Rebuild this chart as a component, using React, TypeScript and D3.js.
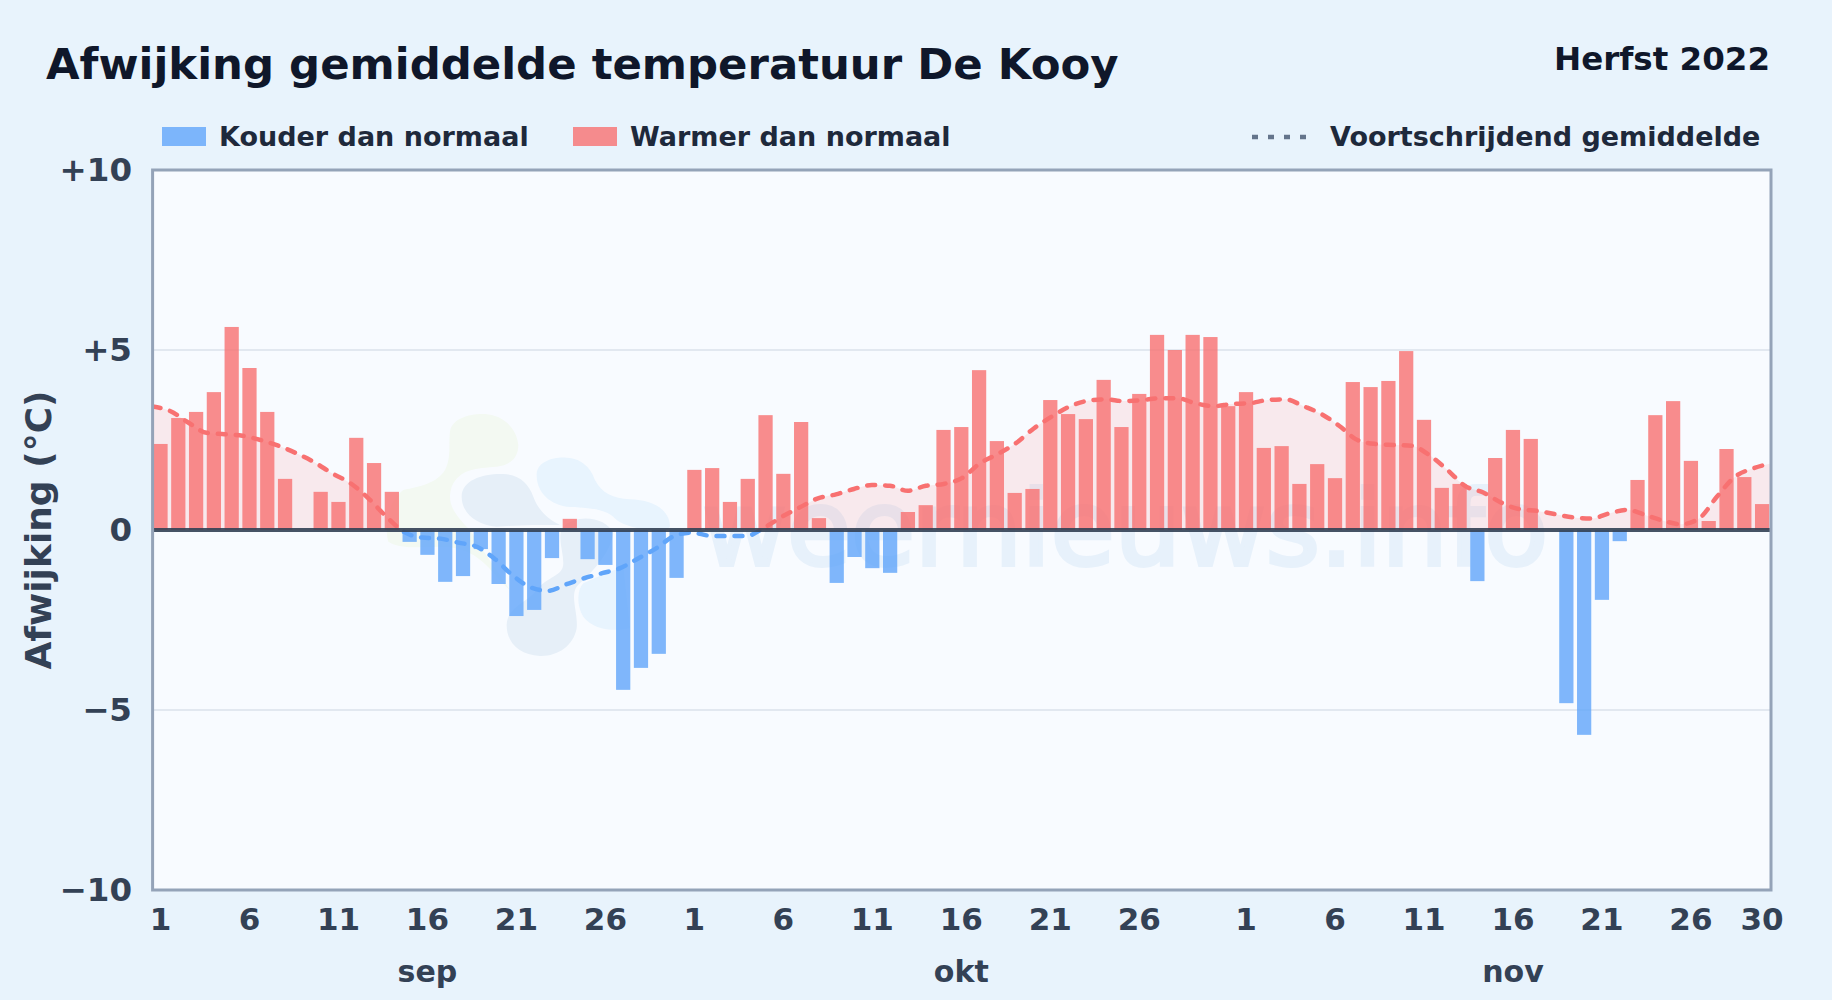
import * as d3 from "d3";

const months = ["sep", "okt", "nov"];
const monthLengths = [30, 31, 30];

// daily anomaly, null = no bar
const sepValues = [2.39, 3.11, 3.28, 3.83, 5.64, 4.5, 3.28, 1.42, null, 1.06, 0.78, 2.56, 1.86, 1.06, -0.33, -0.69, -1.44, -1.28, -0.53, -1.5, -2.39, -2.22, -0.78, 0.31, -0.81, -0.97, -4.44, -3.83, -3.44, -1.33];
const oktValues = [1.67, 1.72, 0.78, 1.42, 3.19, 1.56, 3.0, 0.33, -1.47, -0.75, -1.06, -1.19, 0.5, 0.69, 2.78, 2.86, 4.44, 2.47, 1.03, 1.14, 3.61, 3.22, 3.08, 4.17, 2.86, 3.78, 5.42, 5.0, 5.42, 5.36, 3.44];
const novValues = [3.83, 2.28, 2.33, 1.28, 1.83, 1.44, 4.11, 3.97, 4.14, 4.97, 3.06, 1.17, 1.28, -1.42, 2.0, 2.78, 2.53, null, -4.81, -5.69, -1.94, -0.31, 1.39, 3.19, 3.58, 1.92, 0.25, 2.25, 1.47, 0.72];

// moving average
const sepAvg = [3.43, 3.3, 2.98, 2.7, 2.66, 2.62, 2.5, 2.34, 2.13, 1.88, 1.57, 1.3, 0.88, 0.37, -0.06, -0.21, -0.24, -0.35, -0.46, -0.79, -1.25, -1.59, -1.69, -1.51, -1.34, -1.2, -1.06, -0.79, -0.51, -0.17];
const oktAvg = [-0.07, -0.16, -0.17, -0.17, 0.06, 0.37, 0.63, 0.88, 0.99, 1.14, 1.25, 1.23, 1.09, 1.23, 1.28, 1.44, 1.85, 2.11, 2.41, 2.82, 3.15, 3.43, 3.59, 3.63, 3.58, 3.61, 3.66, 3.66, 3.52, 3.44, 3.5];
const novAvg = [3.52, 3.61, 3.63, 3.44, 3.22, 2.89, 2.5, 2.39, 2.36, 2.34, 2.08, 1.67, 1.22, 1.04, 0.76, 0.58, 0.53, 0.44, 0.35, 0.32, 0.46, 0.56, 0.42, 0.26, 0.16, 0.32, 0.93, 1.48, 1.71, 1.85];

const yTicks = [10, 5, 0, -5, -10];
const yLabels = ["+10", "+5", "0", "−5", "−10"];
const dayTicks = [1, 6, 11, 16, 21, 26];

const values = [...sepValues, ...oktValues, ...novValues];
const averages = [...sepAvg, ...oktAvg, ...novAvg];
const indexes = d3.range(values.length);

const left = 152.6;
const right = 1771;
const top = 170;
const bottom = 890;

const x = d3.scaleBand<number>().domain(indexes).range([left - 1, right]).paddingInner(0.2).paddingOuter(0.1);
const xAvg = d3.scalePoint<number>().domain(indexes).range([left, right]);
const y = d3.scaleLinear().domain([-10, 10]).range([bottom, top]);
const center = (i: number) => x(i)! + x.bandwidth() / 2;

// index of every labelled day
const monthStart = (m: number) => d3.sum(monthLengths.slice(0, m));
const xTickItems = months.flatMap((_, m) => {
    const days = m === 2 ? [...dayTicks, 30] : dayTicks;
    return days.map((d) => ({ label: String(d), index: monthStart(m) + d - 1 }));
});

const linePath = d3
    .line<number>()
    .x((d, i) => xAvg(i)!)
    .y((d) => y(d))
    .curve(d3.curveMonotoneX)(averages)!;
const areaPath = d3
    .area<number>()
    .x((d, i) => xAvg(i)!)
    .y0(y(0))
    .y1((d) => y(d))
    .curve(d3.curveMonotoneX)(averages)!;

const font = "'DejaVu Sans', sans-serif";

const App = () => {
    return (
        <svg
            width={1832}
            height={1000}
            style={{ position: "absolute", left: 0, top: 0, display: "block", background: "#e8f3fc" }}
            fontFamily={font}
            fontWeight="bold"
        >
            <defs>
                <clipPath id="above">
                    <rect x={left} y={y(10)} width={right - left} height={y(0) - y(10)} />
                </clipPath>
                <clipPath id="below">
                    <rect x={left} y={y(0)} width={right - left} height={y(-10) - y(0)} />
                </clipPath>
            </defs>

            <text x={46} y={79} fontSize={43.4} fill="#0f172a">Afwijking gemiddelde temperatuur De Kooy</text>
            <text x={1770} y={70} fontSize={32.5} fill="#0f172a" textAnchor="end">Herfst 2022</text>

            {/* legend */}
            <rect x={162} y={127} width={44} height={19} fill="#60a5fa" opacity={0.8} />
            <text x={219} y={146} fontSize={27} fill="#1e293b">Kouder dan normaal</text>
            <rect x={573} y={127} width={44} height={19} fill="#f87171" opacity={0.8} />
            <text x={630} y={146} fontSize={27} fill="#1e293b">Warmer dan normaal</text>
            <line x1={1252} x2={1310} y1={137} y2={137} stroke="#64748b" strokeWidth={4.5} strokeDasharray="6 10" />
            <text x={1330} y={146} fontSize={27} fill="#1e293b">Voortschrijdend gemiddelde</text>

            <rect x={left} y={top} width={right - left} height={bottom - top} fill="#f8fbff" />

            {/* watermark */}
            <g transform="translate(370,390) scale(0.3333)">
                <path
                    d="M240 125 C245 85 300 70 345 72 C400 75 440 115 445 165 C445 205 420 225 380 230 C320 235 270 235 245 290 C230 340 250 370 300 420 C330 470 380 540 420 600 C370 560 340 480 230 470 C170 470 90 480 55 455 C40 400 60 330 100 300 C150 290 200 280 225 240 C245 200 235 165 240 125 Z"
                    fill="#f3f9f2"
                />
                <path
                    d="M275 320 C275 270 340 250 400 252 C450 255 475 280 490 320 C505 360 530 385 570 405 C500 405 440 405 380 410 C320 405 275 370 275 320 Z"
                    fill="#e6eff8"
                />
                <path
                    d="M410 705 C412 650 470 640 500 600 C530 560 580 560 580 520 C580 480 560 440 580 410 C620 370 710 380 730 430 C720 500 650 560 620 590 C600 620 625 670 620 715 C610 770 560 800 510 798 C450 795 410 760 410 705 Z"
                    fill="#e6eff8"
                />
                <path
                    d="M500 255 C500 215 550 200 590 203 C640 205 665 240 675 270 C695 310 730 325 780 328 C850 330 900 360 900 410 C890 430 760 420 730 380 C690 350 640 355 590 350 C530 340 500 300 500 255 Z"
                    fill="#e8f4fe"
                />
                <path
                    d="M640 580 C680 560 720 545 760 530 L780 715 C730 725 670 720 640 680 C620 650 620 600 640 580 Z"
                    fill="#e8f4fe"
                />
            </g>
            <text x={702} y={565} fontSize={104} fontWeight="normal" fill="#e7f1fb" stroke="#e7f1fb" strokeWidth={4}>weernieuws.info</text>

            {/* grid */}
            {yTicks
                .filter((t) => Math.abs(t) === 5)
                .map((t) => (
                    <line key={t} x1={left} x2={right} y1={y(t)} y2={y(t)} stroke="#e2e8f0" strokeWidth={2} />
                ))}

            <path d={areaPath} fill="#f87171" opacity={0.13} clipPath="url(#above)" />

            {/* bars */}
            {indexes.map((i) => {
                const v = values[i];
                if (v === null) return null;
                return (
                    <rect
                        key={i}
                        x={x(i)}
                        width={x.bandwidth()}
                        y={Math.min(y(v), y(0))}
                        height={Math.abs(y(v) - y(0))}
                        fill={v >= 0 ? "#f87171" : "#60a5fa"}
                        opacity={0.8}
                    />
                );
            })}

            <g fill="none" strokeWidth={4.5} strokeDasharray="8 10" strokeLinecap="round">
                <path d={linePath} stroke="#f87171" clipPath="url(#above)" />
                <path d={linePath} stroke="#60a5fa" clipPath="url(#below)" />
            </g>

            <line x1={left} x2={right} y1={y(0)} y2={y(0)} stroke="#334155" strokeWidth={4} opacity={0.9} />
            <rect x={left} y={top} width={right - left} height={bottom - top} fill="none" stroke="#94a3b8" strokeWidth={3} />

            {/* axes */}
            {yTicks.map((t, i) => (
                <text key={t} x={132} y={y(t) + 11} fontSize={32.5} fill="#334155" textAnchor="end">
                    {yLabels[i]}
                </text>
            ))}
            {xTickItems.map((t) => (
                <text key={t.index} x={center(t.index)} y={930} fontSize={31} fill="#334155" textAnchor="middle">
                    {t.label}
                </text>
            ))}
            {months.map((m, i) => (
                <text key={m} x={center(monthStart(i) + 15)} y={982} fontSize={30} fill="#334155" textAnchor="middle">
                    {m}
                </text>
            ))}
            <text transform="translate(51,530) rotate(-90)" fontSize={36} fill="#334155" textAnchor="middle">
                Afwijking (°C)
            </text>
        </svg>
    );
};

export default App;
